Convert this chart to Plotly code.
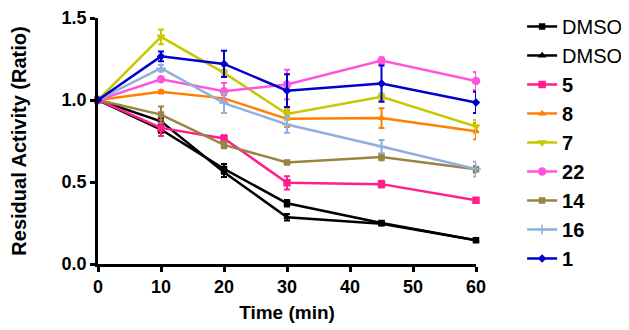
import plotly.graph_objects as go

time_min = [0, 10, 20, 30, 45, 60]

series_names = ["DMSO", "DMSO", "<b>5</b>", "<b>8</b>", "<b>7</b>", "<b>22</b>", "<b>14</b>", "<b>16</b>", "<b>1</b>"]

dmso_a = [1.0, 0.82, 0.58, 0.37, 0.25, 0.145]
dmso_a_err = [0.0, 0.02, 0.03, 0.02, 0.01, 0.01]
dmso_b = [1.0, 0.87, 0.56, 0.285, 0.245, 0.145]
dmso_b_err = [0.0, 0.02, 0.03, 0.02, 0.01, 0.01]
cpd5 = [1.0, 0.83, 0.765, 0.495, 0.487, 0.388]
cpd5_err = [0.0, 0.05, 0.02, 0.04, 0.02, 0.01]
cpd8 = [1.0, 1.05, 1.01, 0.885, 0.89, 0.81]
cpd8_err = [0.0, 0.01, 0.02, 0.05, 0.06, 0.05]
cpd7 = [1.0, 1.385, 1.165, 0.915, 1.02, 0.838]
cpd7_err = [0.0, 0.045, 0.02, 0.03, 0.02, 0.04]
cpd22 = [1.0, 1.126, 1.054, 1.094, 1.24, 1.116]
cpd22_err = [0.0, 0.01, 0.05, 0.09, 0.02, 0.055]
cpd14 = [1.0, 0.911, 0.726, 0.619, 0.652, 0.577]
cpd14_err = [0.0, 0.05, 0.02, 0.01, 0.02, 0.02]
cpd16 = [1.0, 1.194, 0.981, 0.851, 0.716, 0.579]
cpd16_err = [0.0, 0.02, 0.06, 0.05, 0.04, 0.045]
cpd1 = [1.0, 1.266, 1.22, 1.057, 1.1, 0.985]
cpd1_err = [0.0, 0.03, 0.08, 0.1, 0.11, 0.065]

values = [dmso_a, dmso_b, cpd5, cpd8, cpd7, cpd22, cpd14, cpd16, cpd1]
errors = [dmso_a_err, dmso_b_err, cpd5_err, cpd8_err, cpd7_err, cpd22_err, cpd14_err, cpd16_err, cpd1_err]
colors = ["#000000", "#000000", "#FF1E8C", "#FF8000", "#C8C800", "#FF55DD", "#9A8442", "#8FB0DD", "#0000CC"]
symbols = ["square", "triangle-up", "square", "triangle-up", "triangle-down", "circle", "square", "cross-thin", "diamond"]
msizes = [5, 5, 6, 5, 6, 7, 5, 7, 5]

fig = go.Figure()
for i, (name, y, e, c, s, ms) in enumerate(zip(series_names, values, errors, colors, symbols, msizes)):
    fig.add_trace(go.Scatter(
        x=time_min, y=y, name=name, mode="lines+markers",
        line=dict(color=c, width=2.5),
        marker=dict(symbol=s, size=ms, color=c, line=dict(color=c, width=1.5)),
        error_y=dict(type="data", array=e, visible=True, color=c, thickness=2, width=3),
        legendgroup="g%d" % i,
        cliponaxis=False,
    ))

fig.update_layout(
    width=629, height=330,
    margin=dict(l=90, r=161, t=10, b=74, autoexpand=False),
    plot_bgcolor="white", paper_bgcolor="white",
    font=dict(family="Liberation Sans, Arial, sans-serif", color="black"),
    showlegend=True,
    legend=dict(x=1.122, y=0.494, xanchor="left", yanchor="middle",
                font=dict(size=20, color="black"), tracegroupgap=0,
                itemwidth=30, bgcolor="rgba(0,0,0,0)", maxheight=400),
    xaxis=dict(range=[0, 60], tickvals=[0, 10, 20, 30, 40, 50, 60],
               showline=True, linecolor="black", linewidth=2.5,
               ticks="outside", ticklen=5, tickwidth=2.5, tickcolor="black",
               showgrid=False, zeroline=False, automargin=False,
               ticklabeloverflow="allow",
               tickfont=dict(size=18, family="Liberation Sans, Arial", color="black", weight="bold"),
               title=dict(text="<b>Time (min)</b>", font=dict(size=19), standoff=10)),
    yaxis=dict(range=[0, 1.5], tickvals=[0, 0.5, 1.0, 1.5], ticktext=["0.0", "0.5", "1.0", "1.5"],
               showline=True, linecolor="black", linewidth=2.5,
               ticks="outside", ticklen=5, tickwidth=2.5, tickcolor="black",
               showgrid=False, zeroline=False, automargin=False,
               ticklabeloverflow="allow",
               tickfont=dict(size=18, family="Liberation Sans, Arial", color="black", weight="bold"),
               title=dict(text="<b>Residual Activity (Ratio)</b>", font=dict(size=20), standoff=40)),
)

fig.write_html("out.html")
